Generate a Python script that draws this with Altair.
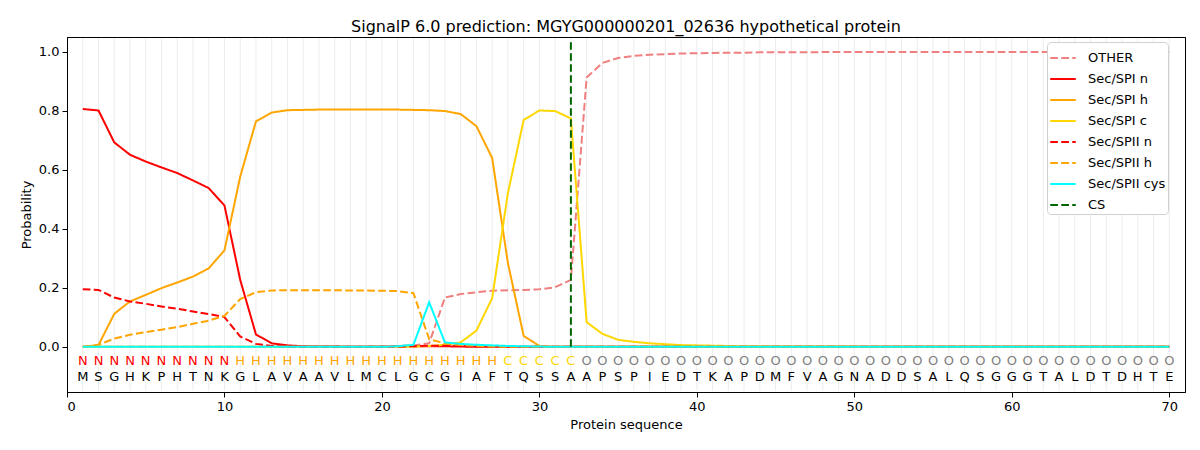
import altair as alt
import pandas as pd

sequence = list("MSGHKPHTNKGLAVAAVLMCLGCGIAFTQSSAAPSPIEDTKAPDMFVAGNADDSALQSGGGTALDTDHTE")
region_labels = list("NNNNNNNNNN" "HHHHHHHHHHHHHHHHH" "CCCCC" "OOOOOOOOOOOOOOOOOOOOOOOOOOOOOOOOOOOOOO")
positions = list(range(1, 71))

other = [
    0.0, 0.0, 0.0, 0.0, 0.0, 0.0, 0.0, 0.0, 0.0, 0.0,
    0.0, 0.0, 0.0, 0.0, 0.0, 0.001, 0.001, 0.001, 0.001, 0.002,
    0.003, 0.005, 0.012, 0.167, 0.179, 0.185, 0.19, 0.192, 0.193, 0.195,
    0.202, 0.227, 0.913, 0.962, 0.979, 0.986, 0.99, 0.992, 0.994, 0.995,
    0.996, 0.997, 0.997, 0.998, 0.998, 0.998, 0.998, 0.999, 0.999, 0.999,
    0.999, 0.999, 0.999, 0.999, 0.999, 0.999, 0.999, 0.999, 0.999, 0.999,
    0.999, 0.999, 0.999, 0.999, 0.999, 0.999, 0.999, 0.999, 0.999, 0.999,
]
spi_n = [
    0.806, 0.801, 0.693, 0.651, 0.628, 0.608, 0.589, 0.564, 0.538, 0.479,
    0.227, 0.042, 0.012, 0.005, 0.002, 0.001, 0.001, 0.0, 0.0, 0.0,
    0.001, 0.002, 0.002, 0.002, 0.001, 0.0, 0.0, 0.0, 0.0, 0.0,
    0.0, 0.0, 0.0, 0.0, 0.0, 0.0, 0.0, 0.0, 0.0, 0.0,
    0.0, 0.0, 0.0, 0.0, 0.0, 0.0, 0.0, 0.0, 0.0, 0.0,
    0.0, 0.0, 0.0, 0.0, 0.0, 0.0, 0.0, 0.0, 0.0, 0.0,
    0.0, 0.0, 0.0, 0.0, 0.0, 0.0, 0.0, 0.0, 0.0, 0.0,
]
spi_h = [
    0.0, 0.006, 0.112, 0.154, 0.176, 0.199, 0.218, 0.238, 0.266, 0.327,
    0.577, 0.764, 0.794, 0.802, 0.803, 0.804, 0.804, 0.804, 0.804, 0.804,
    0.804, 0.803, 0.802, 0.799, 0.789, 0.748, 0.64, 0.284, 0.037, 0.003,
    0.0, 0.0, 0.0, 0.0, 0.0, 0.0, 0.0, 0.0, 0.0, 0.0,
    0.0, 0.0, 0.0, 0.0, 0.0, 0.0, 0.0, 0.0, 0.0, 0.0,
    0.0, 0.0, 0.0, 0.0, 0.0, 0.0, 0.0, 0.0, 0.0, 0.0,
    0.0, 0.0, 0.0, 0.0, 0.0, 0.0, 0.0, 0.0, 0.0, 0.0,
]
spi_c = [
    0.0, 0.0, 0.0, 0.0, 0.0, 0.0, 0.0, 0.0, 0.0, 0.0,
    0.0, 0.0, 0.0, 0.0, 0.0, 0.0, 0.0, 0.0, 0.0, 0.0,
    0.0, 0.001, 0.003, 0.007, 0.015, 0.055, 0.165, 0.521, 0.769, 0.801,
    0.799, 0.774, 0.084, 0.044, 0.024, 0.017, 0.012, 0.009, 0.006, 0.005,
    0.004, 0.003, 0.002, 0.002, 0.001, 0.001, 0.001, 0.001, 0.001, 0.001,
    0.0, 0.0, 0.0, 0.0, 0.0, 0.0, 0.0, 0.0, 0.0, 0.0,
    0.0, 0.0, 0.0, 0.0, 0.0, 0.0, 0.0, 0.0, 0.0, 0.0,
]
spii_n = [
    0.195, 0.193, 0.167, 0.154, 0.146, 0.137, 0.129, 0.12, 0.111, 0.101,
    0.035, 0.01, 0.003, 0.001, 0.0, 0.0, 0.0, 0.0, 0.0, 0.0,
    0.001, 0.002, 0.004, 0.004, 0.003, 0.002, 0.001, 0.0, 0.0, 0.0,
    0.0, 0.0, 0.0, 0.0, 0.0, 0.0, 0.0, 0.0, 0.0, 0.0,
    0.0, 0.0, 0.0, 0.0, 0.0, 0.0, 0.0, 0.0, 0.0, 0.0,
    0.0, 0.0, 0.0, 0.0, 0.0, 0.0, 0.0, 0.0, 0.0, 0.0,
    0.0, 0.0, 0.0, 0.0, 0.0, 0.0, 0.0, 0.0, 0.0, 0.0,
]
spii_h = [
    0.0, 0.007, 0.028, 0.041, 0.05, 0.058, 0.067, 0.078, 0.089, 0.105,
    0.162, 0.185, 0.191, 0.192, 0.192, 0.192, 0.192, 0.191, 0.191, 0.19,
    0.189, 0.182, 0.026, 0.012, 0.006, 0.003, 0.001, 0.0, 0.0, 0.0,
    0.0, 0.0, 0.0, 0.0, 0.0, 0.0, 0.0, 0.0, 0.0, 0.0,
    0.0, 0.0, 0.0, 0.0, 0.0, 0.0, 0.0, 0.0, 0.0, 0.0,
    0.0, 0.0, 0.0, 0.0, 0.0, 0.0, 0.0, 0.0, 0.0, 0.0,
    0.0, 0.0, 0.0, 0.0, 0.0, 0.0, 0.0, 0.0, 0.0, 0.0,
]
spii_cys = [
    0.0, 0.0, 0.0, 0.0, 0.0, 0.0, 0.0, 0.0, 0.0, 0.0,
    0.0, 0.0, 0.0, 0.0, 0.0, 0.0, 0.0, 0.0, 0.0, 0.0,
    0.002, 0.007, 0.151, 0.015, 0.01, 0.007, 0.005, 0.003, 0.002, 0.001,
    0.0, 0.0, 0.0, 0.0, 0.0, 0.0, 0.0, 0.0, 0.0, 0.0,
    0.0, 0.0, 0.0, 0.0, 0.0, 0.0, 0.0, 0.0, 0.0, 0.0,
    0.0, 0.0, 0.0, 0.0, 0.0, 0.0, 0.0, 0.0, 0.0, 0.0,
    0.0, 0.0, 0.0, 0.0, 0.0, 0.0, 0.0, 0.0, 0.0, 0.0,
]
cs_position = 32
cs_y = [0.0, 1.04]

series_names = ["OTHER", "Sec/SPI n", "Sec/SPI h", "Sec/SPI c",
                "Sec/SPII n", "Sec/SPII h", "Sec/SPII cys", "CS"]
series_colors = ["#F08080", "#FF0000", "#FFA500", "#FFD700",
                 "#FF0000", "#FFA500", "#00FFFF", "#006400"]
series_dash = [[7.7, 3.3], [1, 0], [1, 0], [1, 0],
               [7.7, 3.3], [7.7, 3.3], [1, 0], [7.7, 3.3]]

rows = []
for name, vals in zip(series_names[:7],
                      [other, spi_n, spi_h, spi_c, spii_n, spii_h, spii_cys]):
    for p, v in zip(positions, vals):
        rows.append({"series": name, "pos": p, "prob": v})
for v in cs_y:
    rows.append({"series": "CS", "pos": cs_position, "prob": v})
lines_df = pd.DataFrame(rows)
lines_df["order"] = lines_df["series"].map({n: i for i, n in enumerate(series_names)})

seq_df = pd.DataFrame({"pos": positions, "aa": sequence, "lab": region_labels})

FONT = "DejaVu Sans"
Y_MIN, Y_MAX = -0.153, 1.05
x_scale = alt.Scale(domain=[0, 71], nice=False, zero=False)
y_scale = alt.Scale(domain=[Y_MIN, Y_MAX], nice=False, zero=False)

grid = alt.Chart(seq_df).mark_rule(color="#ececec", strokeWidth=1).encode(
    x=alt.X("pos:Q", scale=x_scale,
            axis=alt.Axis(orient="top", labels=False, ticks=False, domain=True,
                          domainColor="black", domainWidth=1, grid=False, title=None,
                          zindex=2)),
    y=alt.datum(Y_MIN + 0.004, scale=y_scale),
    y2=alt.datum(Y_MAX - 0.004),
)

lines = alt.Chart(lines_df).mark_line(strokeWidth=2).encode(
    x=alt.X("pos:Q", scale=x_scale, title="Protein sequence",
            axis=alt.Axis(orient="bottom", values=[0, 10, 20, 30, 40, 50, 60, 70], grid=False)),
    y=alt.Y("prob:Q", scale=y_scale, title="Probability",
            axis=alt.Axis(values=[0, 0.2, 0.4, 0.6, 0.8, 1.0], format=".1f", grid=False)),
    color=alt.Color("series:N", scale=alt.Scale(domain=series_names, range=series_colors),
                    legend=alt.Legend(title=None, orient="none", legendX=980, legendY=5,
                                      symbolType="stroke", symbolSize=650,
                                      symbolStrokeWidth=2, labelFontSize=13,
                                      labelFont=FONT, rowPadding=0, padding=2,
                                      labelOffset=11,
                                      fillColor="white", strokeColor="#d0d0d0",
                                      cornerRadius=4, labelColor="black")),
    strokeDash=alt.StrokeDash("series:N", scale=alt.Scale(domain=series_names, range=series_dash),
                              legend=alt.Legend(title=None)),
    detail="series:N",
    order=alt.Order("order:Q"),
)

LABEL_ROW_Y = -0.047
SEQ_ROW_Y = -0.101
label_colors = {"N": "#FF0000", "H": "#FFA500", "C": "#FFD700", "O": "#808080"}

text_layers = []
for lab, col in label_colors.items():
    text_layers.append(
        alt.Chart(seq_df).transform_filter(alt.datum.lab == lab)
        .mark_text(fontSize=13, font=FONT, color=col, baseline="middle")
        .encode(x=alt.X("pos:Q", scale=x_scale, axis=None),
                y=alt.datum(LABEL_ROW_Y), text="lab:N")
    )
seq_text = alt.Chart(seq_df).mark_text(fontSize=13, font=FONT, color="black",
                                       baseline="middle").encode(
    x=alt.X("pos:Q", scale=x_scale, axis=None), y=alt.datum(SEQ_ROW_Y), text="aa:N"
)

chart = alt.layer(grid, lines, *text_layers, seq_text).resolve_axis(x="independent").properties(
    width=1118, height=355,
    title=alt.TitleParams("SignalP 6.0 prediction: MGYG000000201_02636 hypothetical protein",
                          font=FONT, fontSize=16, fontWeight="normal", color="black", offset=1),
    autosize=alt.AutoSizeParams(type="none"),
    padding={"left": 59, "top": 29, "right": 7, "bottom": 50},
).configure_view(stroke="black", strokeWidth=1).configure_axis(
    labelFont=FONT, titleFont=FONT, labelFontSize=13, titleFontSize=13,
    titleFontWeight="normal", labelColor="black", titleColor="black",
    domainColor="black", tickColor="black", tickSize=5, labelPadding=3, titlePadding=5,
)

chart.save("out.html", embed_options={"renderer": "svg", "actions": False})
